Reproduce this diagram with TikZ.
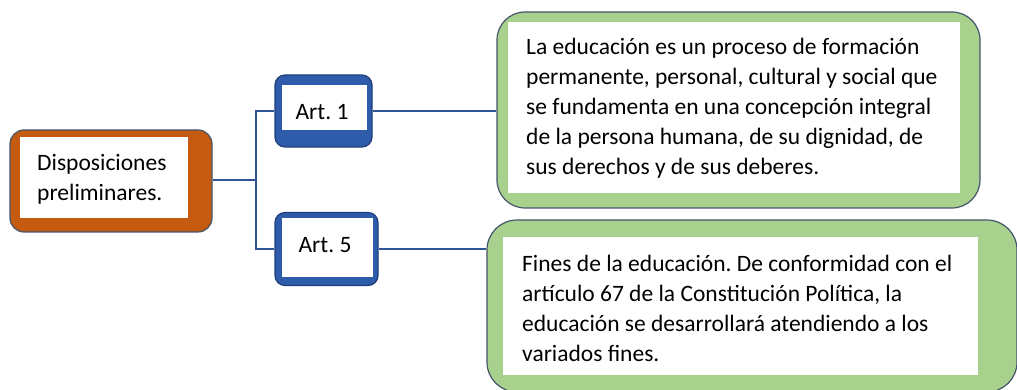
\documentclass[tikz,border=0pt]{standalone}
\usepackage{fontspec}
\setmainfont{Carlito}
\frenchspacing
\definecolor{orng}{HTML}{C55A11}
\definecolor{blu}{HTML}{2F5CAA}
\definecolor{bludark}{HTML}{1F3F7A}
\definecolor{grn}{HTML}{A9D18E}
\definecolor{slate}{HTML}{44546A}
\definecolor{linec}{HTML}{2F5597}
\begin{document}
\begin{tikzpicture}[x=1pt,y=1pt,
  outerbox/.style={rectangle, draw, line width=1.2pt, inner sep=0pt},
  innerbox/.style={rectangle, fill=white, inner sep=0pt},
  txt/.style={inner sep=0pt, align=left, font=\fontsize{23.5}{30}\selectfont\frenchspacing, text=black},
  conn/.style={draw=linec, line width=2pt}
]
\useasboundingbox (0,0) rectangle (1017,390);
\fill[white] (0,0) rectangle (1017,390);

% Disposiciones
\node[outerbox, fill=orng, draw=slate, rounded corners=14pt, minimum width=202pt, minimum height=102pt] (disp) at (111,209) {};
\node[innerbox, minimum width=168pt, minimum height=81pt] (dispin) at (104,212.5) {};
\node[txt, anchor=west] (disptxt) at (37,211) {Disposiciones\\preliminares.};

% Art. 1
\node[outerbox, fill=blu, draw=bludark, rounded corners=10pt, minimum width=97pt, minimum height=72pt] (art1) at (323.5,279) {};
\node[innerbox, minimum width=85pt, minimum height=45pt] (art1in) at (324.5,282.5) {};
\node[txt] (art1txt) at (322,278) {Art. 1};

% Art. 5
\node[outerbox, fill=blu, draw=bludark, rounded corners=10pt, minimum width=103pt, minimum height=73pt] (art5) at (326.5,141) {};
\node[innerbox, minimum width=91pt, minimum height=59pt] (art5in) at (327.5,142) {};
\node[txt] (art5txt) at (325,145) {Art. 5};

% Green 1
\node[outerbox, fill=grn, draw=slate, rounded corners=28pt, minimum width=483pt, minimum height=196pt] (g1) at (738.5,280) {};
\node[innerbox, minimum width=452pt, minimum height=171pt] (g1in) at (734,282.5) {};
\node[txt, anchor=west] (g1txt) at (526,282) {La educación es un proceso de formación\\permanente, personal, cultural y social que\\se fundamenta en una concepción integral\\de la persona humana, de su dignidad, de\\sus derechos y de sus deberes.};

% Green 2
\node[outerbox, fill=grn, draw=slate, rounded corners=30pt, minimum width=530pt, minimum height=172pt] (g2) at (752,84) {};
\node[innerbox, minimum width=475pt, minimum height=138pt] (g2in) at (740.5,84) {};
\node[txt, anchor=west] (g2txt) at (522,82) {Fines de la educación. De conformidad con el\\artículo 67 de la Constitución Política, la\\educación se desarrollará atendiendo a los\\variados fines.};

% connectors
\coordinate (split) at (256,210);
\draw[conn] (disp.east |- split) -- (split);
\draw[conn] (art1.west) -| (split) |- (art5.west);
\draw[conn] (art1.east) -- (art1.east -| g1.west);
\draw[conn] (art5.east) -- (art5.east -| g2.west);
\end{tikzpicture}
\end{document}
